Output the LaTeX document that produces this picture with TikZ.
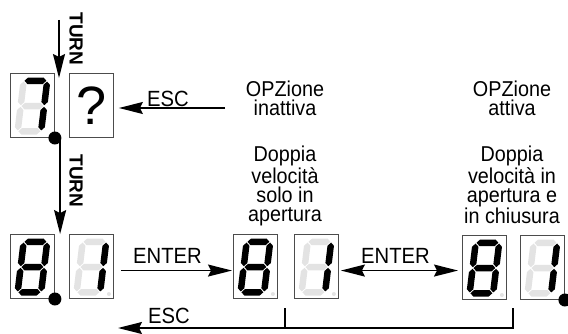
\documentclass[tikz,border=0pt]{standalone}
\usepackage{fontspec}
\setmainfont{Liberation Sans}
\newfontfamily\condfont[FakeStretch=0.92]{Liberation Sans}
\usetikzlibrary{arrows.meta,calc}
\definecolor{segoff}{gray}{0.89}
\newcommand\segs[7]{%
 \fill[#1] (4.05,53.75)--(7.3,57)--(22.7,57)--(25.95,53.75)--(22.7,50.5)--(7.3,50.5)--cycle;
 \fill[#2] (26.75,29.3)--(30,32.55)--(30,49.7)--(26.75,52.95)--(23.5,49.7)--(23.5,32.55)--cycle;
 \fill[#3] (26.75,4.05)--(30,7.3)--(30,24.45)--(26.75,27.7)--(23.5,24.45)--(23.5,7.3)--cycle;
 \fill[#4] (4.05,3.25)--(7.3,6.5)--(22.7,6.5)--(25.95,3.25)--(22.7,0)--(7.3,0)--cycle;
 \fill[#5] (3.25,4.05)--(6.5,7.3)--(6.5,24.45)--(3.25,27.7)--(0,24.45)--(0,7.3)--cycle;
 \fill[#6] (3.25,29.3)--(6.5,32.55)--(6.5,49.7)--(3.25,52.95)--(0,49.7)--(0,32.55)--cycle;
 \fill[#7] (4.05,28.5)--(7.3,31.75)--(22.7,31.75)--(25.95,28.5)--(22.7,25.25)--(7.3,25.25)--cycle;
}
\tikzset{
 x=1pt,y=1pt,
 dispbox/.style={draw=black!70, line width=0.9pt, minimum width=44pt, minimum height=64pt, inner sep=0pt, anchor=south west},
 on/.style={fill=black},
 off/.style={fill=segoff},
 digitpos/.style={shift={(#1.south west)}, shift={(4,3.5)}, xslant=0.12},
 bigdot/.style={circle, fill=black, minimum size=13pt, inner sep=0pt},
 dp/.style={circle, fill=segoff, minimum size=4pt, inner sep=0pt},
 arr/.style={line width=1.5pt, -{Stealth[length=24pt,width=12pt,inset=3pt]}},
 arrboth/.style={line width=1.5pt, {Stealth[length=24pt,width=12pt,inset=3pt]}-{Stealth[length=24pt,width=12pt,inset=3pt]}},
 lbl/.style={font=\condfont\fontsize{22}{22}\selectfont, inner sep=0pt},
 turnlbl/.style={font=\bfseries\fontsize{19}{19}\selectfont, inner sep=0pt, rotate=-90},
 info/.style={font=\condfont\fontsize{21.5}{19.2}\selectfont, align=center, inner sep=0pt, anchor=north},
}
\begin{document}
\begin{tikzpicture}
\useasboundingbox (0,0) rectangle (568,333);
% top row
\node[dispbox] (t1) at (10,195) {};
\begin{scope}[digitpos=t1]\segs{on}{on}{on}{off}{off}{off}{off}\end{scope}
\node[bigdot] (dot1) at (t1.south east) {};
\node[dispbox, font=\fontsize{54}{54}\selectfont] (q) at (69,195) {?};
% bottom row
\node[dispbox] (b1) at (10,34) {};
\begin{scope}[digitpos=b1]\segs{on}{on}{on}{on}{on}{on}{on}\end{scope}
\node[bigdot] (dot2) at (b1.south east) {};
\node[dispbox] (b2) at (69,34) {};
\begin{scope}[digitpos=b2]\segs{off}{on}{on}{off}{off}{off}{off}\end{scope}
\node[dp] at ([xshift=-5,yshift=5]b2.south east) {};
\node[dispbox] (b3) at (233,34) {};
\begin{scope}[digitpos=b3]\segs{on}{on}{on}{on}{on}{on}{on}\end{scope}
\node[dp] at ([xshift=-5,yshift=5]b3.south east) {};
\node[dispbox] (b4) at (294,34) {};
\begin{scope}[digitpos=b4]\segs{off}{on}{on}{off}{off}{off}{off}\end{scope}
\node[dp] at ([xshift=-5,yshift=5]b4.south east) {};
\node[dispbox] (b5) at (462,33) {};
\begin{scope}[digitpos=b5]\segs{on}{on}{on}{on}{on}{on}{on}\end{scope}
\node[dp] at ([xshift=-5,yshift=5]b5.south east) {};
\node[dispbox] (b6) at (520,33) {};
\begin{scope}[digitpos=b6]\segs{off}{on}{on}{off}{off}{off}{off}\end{scope}
\node[bigdot] (dot3) at (b6.south east) {};
% TURN arrows
\coordinate (turnStart) at (59,313);
\coordinate (turnEnd) at (59,255);
\draw[arr] (turnStart) -- (turnEnd);
\node[turnlbl] (turn1) at (76,294) {TURN};
\coordinate (turn2s) at ([xshift=-1.5]dot1.east);
\draw[arr] (turn2s) -- (turn2s |- b1.north);
\node[turnlbl] (turn2) at (76,152) {TURN};
% ESC top
\coordinate (escStart) at (225,225);
\draw[arr] (escStart) -- (escStart -| {$(q.east)+(5,0)$});
\node[lbl, anchor=base west] (esc1) at (147,227) {ESC};
% ENTER arrows
\coordinate (e1s) at ([xshift=7,yshift=-4]b2.east);
\draw[arr] (e1s) -- ($(e1s -| b3.west)+(-1,0)$);
\node[lbl, anchor=base west] (enter1) at (133,70) {ENTER};
\coordinate (e2s) at ([xshift=2,yshift=-4]b4.east);
\draw[arrboth] (e2s) -- ($(e2s -| b5.west)+(-4,0)$);
\node[lbl, anchor=base west] (enter2) at (361,70) {ENTER};
% ESC bottom bracket
\coordinate (brL) at (285,25);
\coordinate (brR) at (513,25);
\coordinate (escB) at (118,5);
\draw[line width=1.5pt] (brL) -- (brL |- escB);
\draw[arr] (brR) |- (escB);
\node[lbl, anchor=base west] (esc2) at (148,10) {ESC};
% texts
\node[info] (opt1) at (285,252) {OPZione\\inattiva};
\node[info] (opt2) at (512,252) {OPZione\\attiva};
\node[info] (desc1) at (285,187) {Doppia\\velocità\\solo in\\apertura};
\node[info] (desc2) at (512,187) {Doppia\\velocità in\\apertura e\\in chiusura};
\end{tikzpicture}
\end{document}
